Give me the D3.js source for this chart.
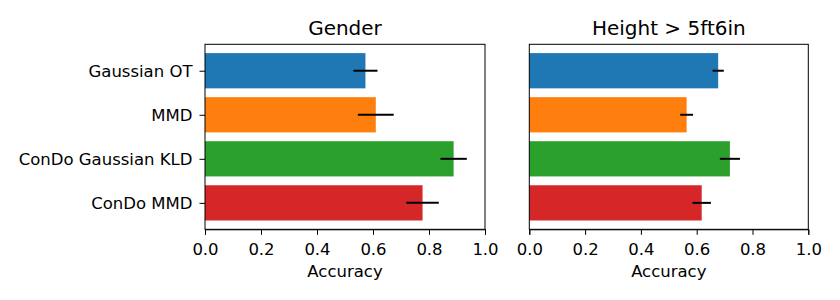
<!DOCTYPE html>
<head>
    <meta charset="UTF-8" />
    <style>
        body { margin: 0; padding: 0; background: #fff; font-family: "DejaVu Sans", sans-serif; }
        .axis text { font-family: "DejaVu Sans", sans-serif; font-size: 16.5px; fill: #000; }
        .axis path, .axis line { stroke: #000; stroke-width: 1px; }
        .title { font-size: 20px; text-anchor: middle; fill: #000; }
        .xlabel { font-size: 16.5px; text-anchor: middle; fill: #000; }
    </style>
</head>
<svg width="840" height="300"></svg>
<script src="https://d3js.org/d3.v7.min.js"></script>
<script>
    const methods = ["Gaussian OT", "MMD", "ConDo Gaussian KLD", "ConDo MMD"]
    const colors = ["#1f77b4", "#ff7f0e", "#2ca02c", "#d62728"]
    const genderAcc = [0.573, 0.610, 0.888, 0.777]
    const genderErr = [0.043, 0.064, 0.047, 0.058]
    const heightAcc = [0.677, 0.564, 0.719, 0.618]
    const heightErr = [0.020, 0.023, 0.036, 0.033]
    const xTicks = [0, 0.2, 0.4, 0.6, 0.8, 1.0]

    const panels = [
        { title: "Gender", acc: genderAcc, err: genderErr, left: 205, right: 485, yLabels: true },
        { title: "Height > 5ft6in", acc: heightAcc, err: heightErr, left: 529.3, right: 808.3, yLabels: false }
    ]

    const svg = d3.select("svg")
    const plotTop = 44.3, plotBottom = 229.3

    panels.forEach(p => {
        const g = svg.append("g")
        const x = d3.scaleLinear().domain([0, 1]).range([p.left, p.right])
        // matplotlib-style category axis: positions 0..3, limits -0.6..3.6
        const y = d3.scaleLinear().domain([-0.6, 3.6]).range([plotTop, plotBottom])
        const barH = y(0.4) - y(-0.4)

        g.selectAll(".bar")
            .data(p.acc)
            .enter().append("rect")
            .attr("class", "bar")
            .attr("x", x(0))
            .attr("y", (d, i) => y(i) - barH / 2)
            .attr("width", d => x(d) - x(0))
            .attr("height", barH)
            .attr("fill", (d, i) => colors[i])

        g.selectAll(".err")
            .data(p.acc)
            .enter().append("line")
            .attr("class", "err")
            .attr("x1", (d, i) => x(d - p.err[i]))
            .attr("x2", (d, i) => x(d + p.err[i]))
            .attr("y1", (d, i) => y(i))
            .attr("y2", (d, i) => y(i))
            .attr("stroke", "#000")
            .attr("stroke-width", 2)

        // x axis
        const xAxis = d3.axisBottom(x).tickValues(xTicks).tickFormat(d3.format(".1f"))
            .tickSizeOuter(0).tickSize(5.5).tickPadding(8.5)
        g.append("g").attr("class", "axis")
            .attr("transform", `translate(0,${plotBottom})`)
            .call(xAxis)

        // y axis
        const yAxis = d3.axisLeft(y).tickValues(d3.range(methods.length))
            .tickFormat(i => p.yLabels ? methods[i] : "")
            .tickSizeOuter(0).tickSize(p.yLabels ? 5.5 : 0).tickPadding(7)
        const ya = g.append("g").attr("class", "axis")
            .attr("transform", `translate(${p.left},0)`)
            .call(yAxis)
        ya.select(".domain").remove()

        // frame
        g.append("rect")
            .attr("x", p.left).attr("y", plotTop)
            .attr("width", p.right - p.left).attr("height", plotBottom - plotTop)
            .attr("fill", "none").attr("stroke", "#000").attr("stroke-width", 1)

        g.append("text").attr("class", "title")
            .attr("x", (p.left + p.right) / 2).attr("y", 35)
            .text(p.title)

        g.append("text").attr("class", "xlabel")
            .attr("x", (p.left + p.right) / 2).attr("y", 277)
            .text("Accuracy")
    })
</script>
